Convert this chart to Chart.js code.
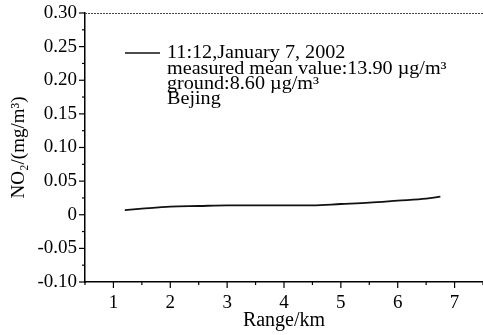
<!DOCTYPE html>
<html>
<head>
<meta charset="utf-8">
<script src="https://cdn.jsdelivr.net/npm/chart.js@4/dist/chart.umd.min.js"></script>
<style>
    html, body { margin: 0; padding: 0; background: #fff; }
    #wrap { width: 483px; height: 335px; position: relative; }
</style>
</head>
<body>
<div id="wrap"><canvas id="chart"></canvas></div>
<script>
// Data
const rangeKm = [1.2, 1.5, 2, 2.5, 3, 3.5, 4, 4.5, 5, 5.5, 6, 6.5, 6.75];
const no2Values = [0.007, 0.009, 0.012, 0.013, 0.014, 0.014, 0.014, 0.014, 0.016, 0.018, 0.021, 0.024, 0.027];
const xTickValues = [1, 2, 3, 4, 5, 6, 7];
const yTickValues = [-0.10, -0.05, 0, 0.05, 0.10, 0.15, 0.20, 0.25, 0.30];
const legendLines = [
    '11:12,January 7, 2002',
    'measured mean value:13.90 µg/m³',
    'ground:8.60 µg/m³',
    'Bejing'
];

const FONT = 'Liberation Serif';

// Axis decorations: minor/major ticks, dotted top frame, in-plot legend
const decorPlugin = {
    id: 'decor',
    afterDraw(chart) {
        const ctx = chart.ctx;
        const area = chart.chartArea;
        const xs = chart.scales.x;
        const ys = chart.scales.y;

        ctx.save();
        ctx.strokeStyle = '#000';
        ctx.lineWidth = 1.2;

        // x ticks (major every 1, minor every 0.5)
        for (let v = 0.5; v <= 7.5; v += 0.5) {
            const px = xs.getPixelForValue(v);
            const len = Number.isInteger(v) ? 6 : 3;
            ctx.beginPath();
            ctx.moveTo(px, area.bottom);
            ctx.lineTo(px, area.bottom + len);
            ctx.stroke();
        }
        // y ticks (major every 0.05, minor every 0.025)
        for (let i = 0; i <= 16; i++) {
            const v = -0.10 + i * 0.025;
            const py = ys.getPixelForValue(v);
            const len = i % 2 === 0 ? 6 : 3;
            ctx.beginPath();
            ctx.moveTo(area.left, py);
            ctx.lineTo(area.left - len, py);
            ctx.stroke();
        }

        // dotted top frame
        ctx.strokeStyle = '#444';
        ctx.lineWidth = 1;
        ctx.setLineDash([2, 1]);
        ctx.beginPath();
        ctx.moveTo(area.left, area.top + 0.5);
        ctx.lineTo(area.right, area.top + 0.5);
        ctx.stroke();
        ctx.setLineDash([]);

        // legend
        ctx.strokeStyle = '#111';
        ctx.lineWidth = 1.5;
        ctx.beginPath();
        ctx.moveTo(125, 53);
        ctx.lineTo(160, 53);
        ctx.stroke();

        // text in the figure is a little wider than the font, so stretch it
        ctx.fillStyle = '#000';
        ctx.font = `18px "${FONT}"`;
        ctx.textBaseline = 'alphabetic';
        ctx.textAlign = 'left';
        const baselines = [58, 74, 89, 104];
        legendLines.forEach((line, i) => {
            ctx.save();
            ctx.translate(167, baselines[i]);
            ctx.scale(1.12, 1);
            ctx.fillText(line, 0, 0);
            ctx.restore();
        });
        ctx.restore();
    }
};

const ctx = document.getElementById('chart').getContext('2d');
new Chart(ctx, {
    type: 'line',
    data: {
        datasets: [{
            data: rangeKm.map((x, i) => ({ x: x, y: no2Values[i] })),
            borderColor: '#111',
            borderWidth: 1.8,
            pointRadius: 0,
            fill: false,
            cubicInterpolationMode: 'monotone'
        }]
    },
    options: {
        responsive: true,
        maintainAspectRatio: false,
        animation: false,
        layout: { padding: { top: 13, right: 0, left: 0, bottom: 0 } },
        plugins: {
            legend: { display: false },
            tooltip: { enabled: false }
        },
        scales: {
            x: {
                type: 'linear',
                min: 0.5,
                max: 7.5,
                afterBuildTicks: (scale) => {
                    scale.ticks = xTickValues.map(v => ({ value: v }));
                },
                afterFit: (scale) => {
                    scale.height = 53;
                    scale.paddingLeft = 0;
                    scale.paddingRight = 0;
                },
                grid: { drawOnChartArea: false, drawTicks: false },
                border: { display: true, color: '#000', width: 1.5 },
                ticks: {
                    color: '#000',
                    padding: 12,
                    maxRotation: 0,
                    font: { family: FONT, size: 19, lineHeight: 1 },
                    callback: (v) => String(v)
                },
                title: {
                    display: true,
                    text: 'Range/km',
                    color: '#000',
                    font: { family: FONT, size: 20 },
                    padding: { top: 0, bottom: 2 }
                }
            },
            y: {
                min: -0.10,
                max: 0.30,
                afterBuildTicks: (scale) => {
                    scale.ticks = yTickValues.map(v => ({ value: v }));
                },
                afterFit: (scale) => {
                    scale.width = 85;
                    scale.paddingTop = 0;
                    scale.paddingBottom = 0;
                },
                grid: { drawOnChartArea: false, drawTicks: false },
                border: { display: true, color: '#000', width: 1.5 },
                ticks: {
                    color: '#000',
                    padding: 8,
                    font: { family: FONT, size: 19, lineHeight: 1 },
                    callback: (v) => (Math.abs(v) < 1e-9 ? '0' : v.toFixed(2))
                },
                title: {
                    display: true,
                    text: 'NO₂/(mg/m³)',
                    color: '#000',
                    font: { family: FONT, size: 19 },
                    padding: { top: 8, bottom: 0 }
                }
            }
        }
    },
    plugins: [decorPlugin]
});
</script>
</body>
</html>
